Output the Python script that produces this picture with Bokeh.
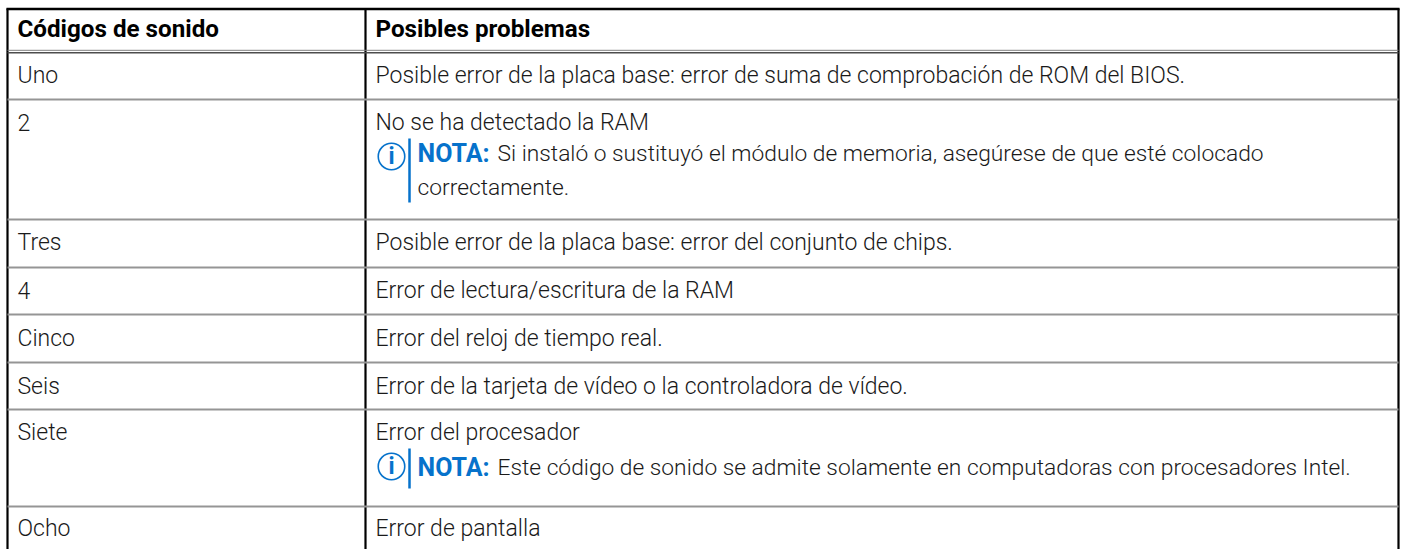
from bokeh.plotting import figure
from bokeh.models import Range1d
from bokeh.core.properties import value
from bokeh.embed import file_html
from bokeh.resources import INLINE

header = ["Códigos de sonido", "Posibles problemas"]
codes = ["Uno", "2", "Tres", "4", "Cinco", "Seis", "Siete", "Ocho"]
problems = [
    "Posible error de la placa base: error de suma de comprobación de ROM del BIOS.",
    "No se ha detectado la RAM",
    "Posible error de la placa base: error del conjunto de chips.",
    "Error de lectura/escritura de la RAM",
    "Error del reloj de tiempo real.",
    "Error de la tarjeta de vídeo o la controladora de vídeo.",
    "Error del procesador",
    "Error de pantalla",
]
note_label = "NOTA:"
note_lines = [
    "Si instaló o sustituyó el módulo de memoria, asegúrese de que esté colocado",
    "correctamente.",
    "Este código de sonido se admite solamente en computadoras con procesadores Intel.",
]

W, H = 1403, 549
FONT = "Roboto Light"
BOLD = "Roboto"
BLUE = "#0672cb"
L, R, T = 7, 1398, 8
DIV = 365
X1, X2 = 17, 375
NX = 417
NX2 = 497
row_rules = [99, 219, 267, 314, 362, 409, 506]
row_y = [75, 122, 242, 290, 338, 386, 432, 528]
note_y = [153, 187, 467]
icon_y = [156, 466]
note_bars = [(138, 202), (448, 488)]

p = figure(width=W, height=H, x_range=Range1d(0, W), y_range=Range1d(H, 0),
           output_backend="svg", toolbar_location=None, min_border=0,
           outline_line_color=None, background_fill_color="white")
p.axis.visible = False
p.grid.visible = False

p.segment(x0=[L, DIV, R], x1=[L, DIV, R], y0=[T]*3, y1=[H]*3, line_color="#000000", line_width=2.2)
p.segment(x0=[L]*len(row_rules), x1=[R]*len(row_rules), y0=row_rules, y1=row_rules, line_color="#959595", line_width=2)
p.segment(x0=[L], x1=[R], y0=[49.8], y1=[49.8], line_color="#808080", line_width=1)
p.segment(x0=[L], x1=[R], y0=[52.2], y1=[52.2], line_color="#4d4d4d", line_width=1.6)
p.segment(x0=[L-1], x1=[R+1], y0=[8.5], y1=[8.5], line_color="#000000", line_width=2.5)

def txt(x, y, t, font=FONT, bold=False, color="#1a1a1a", size="23px", align="left"):
    p.text(x=x, y=y, text=t, text_font=value(font), text_font_size=size,
           text_font_style="bold" if bold else "normal", text_color=color,
           text_baseline="middle", text_align=align)

txt([X1, X2], [28.5, 28.5], header, font=BOLD, bold=True, color="#000000", size="24.2px")
txt([X1]*8, row_y, codes)
txt([X2]*8, row_y, problems)

txt([NX, NX], [note_y[0], note_y[2]], [note_label, note_label], font=BOLD, bold=True, color=BLUE, size="25px")
txt([NX2, NX, NX2], note_y, note_lines, size="22.77px")

for y0, y1 in note_bars:
    p.segment(x0=[409], x1=[409], y0=[y0], y1=[y1], line_color=BLUE, line_width=2.5)
for y in icon_y:
    p.scatter(x=[391], y=[y], marker="circle", size=26.5, fill_color=None, line_color=BLUE, line_width=1.6)
    txt([391], [y], ["i"], font=BOLD, bold=True, color=BLUE, size="23px", align="center")

open("out.html", "w").write(file_html(p, INLINE))
